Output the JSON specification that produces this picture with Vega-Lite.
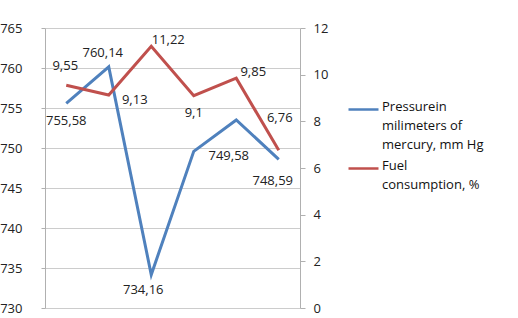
{
  "$schema": "https://vega.github.io/schema/vega-lite/v6.json",
  "width": 255,
  "height": 280,
  "autosize": "none",
  "padding": {"left": 45, "top": 28, "right": 218, "bottom": 10},
  "background": "white",
  "config": {
    "view": {"stroke": null},
    "font": "Open Sans",
    "axis": {"labelFont": "Open Sans", "labelFontSize": 13, "labelColor": "#222222", "domainColor": "#b0b0b0", "tickColor": "#b0b0b0", "gridColor": "#cccccc"},
    "text": {"font": "Open Sans", "fontSize": 13, "color": "#222222", "baseline": "middle", "align": "center"}
  },
  "data": {
    "values": [
      {"i": 1, "series": "P", "value": 755.58, "label": "755,58"},
      {"i": 2, "series": "P", "value": 760.14, "label": "760,14"},
      {"i": 3, "series": "P", "value": 734.16, "label": "734,16"},
      {"i": 4, "series": "P", "value": 749.58, "label": "749,58"},
      {"i": 5, "series": "P", "value": 753.5, "label": ""},
      {"i": 6, "series": "P", "value": 748.59, "label": "748,59"},
      {"i": 1, "series": "F", "value": 9.55, "label": "9,55"},
      {"i": 2, "series": "F", "value": 9.13, "label": "9,13"},
      {"i": 3, "series": "F", "value": 11.22, "label": "11,22"},
      {"i": 4, "series": "F", "value": 9.1, "label": "9,1"},
      {"i": 5, "series": "F", "value": 9.85, "label": "9,85"},
      {"i": 6, "series": "F", "value": 6.76, "label": "6,76"}
    ]
  },
  "encoding": {
    "x": {"field": "i", "type": "ordinal", "scale": {"type": "point", "padding": 0.5}, "axis": null}
  },
  "layer": [
    {
      "transform": [{"filter": "datum.series == 'P'"}],
      "encoding": {
        "y": {"field": "value", "type": "quantitative", "scale": {"domain": [730, 765], "nice": false, "zero": false},
              "axis": {"orient": "left", "title": null, "values": [730, 735, 740, 745, 750, 755, 760, 765], "tickSize": 4, "labelPadding": 19, "grid": true}}
      },
      "layer": [
        {
          "mark": {"type": "line", "strokeWidth": 3},
          "encoding": {
            "color": {"field": "series", "type": "nominal",
              "scale": {"domain": ["P", "F"], "range": ["#4F81BD", "#C0504D"]},
              "legend": {"title": null, "orient": "none", "legendX": 302, "legendY": 65, "symbolType": "stroke", "symbolSize": 900, "symbolStrokeWidth": 2.5,
                "labelFont": "Open Sans", "labelFontSize": 13, "labelColor": "#111111", "labelLimit": 300, "labelOffset": 2, "labelBaseline": "top", "rowPadding": -3,
                "labelExpr": "datum.value == 'P' ? ['Pressurein', 'milimeters  of', 'mercury, mm Hg'] : ['Fuel', 'consumption, %']",
                "encode": {"labels": {"update": {"lineHeight": {"value": 19}, "dy": {"value": -9}}}}}}
          }
        },
        {"transform": [{"filter": "datum.i == 1"}], "mark": {"type": "text", "dy": 18}, "encoding": {"text": {"field": "label"}}},
        {"transform": [{"filter": "datum.i == 2"}], "mark": {"type": "text", "dx": -6, "dy": -14}, "encoding": {"text": {"field": "label"}}},
        {"transform": [{"filter": "datum.i == 3"}], "mark": {"type": "text", "dx": -8, "dy": 15}, "encoding": {"text": {"field": "label"}}},
        {"transform": [{"filter": "datum.i == 4"}], "mark": {"type": "text", "dx": 35, "dy": 5}, "encoding": {"text": {"field": "label"}}},
        {"transform": [{"filter": "datum.i == 6"}], "mark": {"type": "text", "dx": -6, "dy": 22}, "encoding": {"text": {"field": "label"}}}
      ]
    },
    {
      "transform": [{"filter": "datum.series == 'F'"}],
      "encoding": {
        "y": {"field": "value", "type": "quantitative", "scale": {"domain": [0, 12], "nice": false},
              "axis": {"orient": "right", "title": null, "values": [0, 2, 4, 6, 8, 10, 12], "tickSize": 5, "labelPadding": 8, "grid": false}}
      },
      "layer": [
        {
          "mark": {"type": "line", "strokeWidth": 3},
          "encoding": {"color": {"field": "series", "type": "nominal", "scale": {"domain": ["P", "F"], "range": ["#4F81BD", "#C0504D"]}}}
        },
        {"transform": [{"filter": "datum.i == 1"}], "mark": {"type": "text", "dx": -1, "dy": -19}, "encoding": {"text": {"field": "label"}}},
        {"transform": [{"filter": "datum.i == 2"}], "mark": {"type": "text", "dx": 26, "dy": 5}, "encoding": {"text": {"field": "label"}}},
        {"transform": [{"filter": "datum.i == 3"}], "mark": {"type": "text", "dx": 17, "dy": -6}, "encoding": {"text": {"field": "label"}}},
        {"transform": [{"filter": "datum.i == 4"}], "mark": {"type": "text", "dx": 0, "dy": 17}, "encoding": {"text": {"field": "label"}}},
        {"transform": [{"filter": "datum.i == 5"}], "mark": {"type": "text", "dx": 17, "dy": -6}, "encoding": {"text": {"field": "label"}}},
        {"transform": [{"filter": "datum.i == 6"}], "mark": {"type": "text", "dx": 1, "dy": -32}, "encoding": {"text": {"field": "label"}}}
      ]
    }
  ],
  "resolve": {"scale": {"y": "independent"}}
}
